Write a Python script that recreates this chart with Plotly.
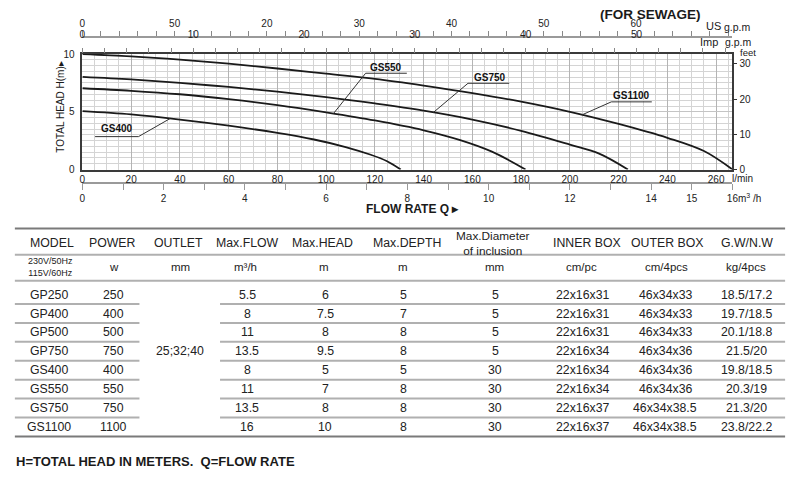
import numpy as np
import plotly.graph_objects as go

# ---------------- chart data (Q in l/min, H in m) ----------------
gs400_q = [0, 20, 40, 60, 80, 95, 108, 118, 125, 130.6]
gs400_h = [5.05, 4.77, 4.33, 3.8, 3.17, 2.6, 1.95, 1.3, 0.72, 0]
gs550_q = [0, 20, 40, 60, 80, 100, 120, 140, 155, 168, 181.8]
gs550_h = [7.04, 6.82, 6.52, 6.1, 5.58, 4.95, 4.25, 3.4, 2.55, 1.55, 0]
gs750_q = [0, 20, 40, 60, 80, 100, 120, 140, 160, 180, 200, 212, 223.8]
gs750_h = [8.02, 7.8, 7.5, 7.15, 6.74, 6.27, 5.72, 5.1, 4.33, 3.35, 2.15, 1.38, 0]
gs1100_q = [0, 20, 40, 60, 80, 100, 120, 140, 160, 180, 200, 220, 240, 255, 266.7]
gs1100_h = [10, 9.8, 9.52, 9.17, 8.75, 8.3, 7.85, 7.27, 6.62, 5.88, 5.0, 3.95, 2.75, 1.6, 0]

lmin_ticks = list(range(0, 261, 20))
m3h_ticks = list(range(0, 17))
m3h_text = ["0", " ", "2", " ", "4", " ", "6", " ", "8", " ", "10", " ", "12", " ", "14", "15", "16"]
us_ticks = [0, 10, 20, 30, 40, 50, 60]
us_text = ["0", "50", "20", "30", "40", "50", "60"]
imp_ticks = [0, 10, 20, 30, 40, 50]
feet_ticks = [0, 10, 20, 30]
head_ticks = [0, 5, 10]

# ---------------- table data ----------------
headers = ["MODEL", "POWER", "OUTLET", "Max.FLOW", "Max.HEAD", "Max.DEPTH",
           "Max.Diameter<br>of inclusion", "INNER BOX", "OUTER BOX", "G.W/N.W"]
units = ["230V/50Hz<br>115V/60Hz", "w", "mm", "m³/h", "m", "m", "mm", "cm/pc", "cm/4pcs", "kg/4pcs"]
models = ["GP250", "GP400", "GP500", "GP750", "GS400", "GS550", "GS750", "GS1100"]
power = ["250", "400", "500", "750", "400", "550", "750", "1100"]
outlet = "25;32;40"
max_flow = ["5.5", "8", "11", "13.5", "8", "11", "13.5", "16"]
max_head = ["6", "7.5", "8", "9.5", "5", "7", "8", "10"]
max_depth = ["5", "7", "8", "8", "5", "8", "8", "8"]
max_diam = ["5", "5", "5", "5", "30", "30", "30", "30"]
inner_box = ["22x16x31", "22x16x31", "22x16x31", "22x16x34", "22x16x34", "22x16x34", "22x16x37", "22x16x37"]
outer_box = ["46x34x33", "46x34x33", "46x34x33", "46x34x36", "46x34x36", "46x34x36", "46x34x38.5", "46x34x38.5"]
weight = ["18.5/17.2", "19.7/18.5", "20.1/18.8", "21.5/20", "19.8/18.5", "20.3/19", "21.3/20", "23.8/22.2"]

W, H = 800, 482
FONT = "Arial, Liberation Sans, sans-serif"
Q_MAX = 266.67


def px(x):
    return x / W


def py(y):
    return 1 - y / H


fig = go.Figure()
curves = [("GS400", gs400_q, gs400_h), ("GS550", gs550_q, gs550_h),
          ("GS750", gs750_q, gs750_h), ("GS1100", gs1100_q, gs1100_h)]
for name, q, h in curves:
    fig.add_trace(go.Scatter(x=q, y=h, mode="lines", name=name, showlegend=False,
                             line=dict(color="#1a1a1a", width=1.8, shape="spline", smoothing=1.0),
                             hoverinfo="skip", xaxis="x", yaxis="y"))

# invisible traces so every extra axis is drawn
for xa, ya in [("x2", "y"), ("x3", "y"), ("x4", "y"), ("x", "y2")]:
    fig.add_trace(go.Scatter(x=[0], y=[0], mode="markers", marker=dict(opacity=0),
                             showlegend=False, hoverinfo="skip", xaxis=xa, yaxis=ya))

xdom = [px(80.3), px(737.7)]
ydom = [py(167.7), py(49.3)]
tickfont = dict(family=FONT, size=10, color="#222")

fig.update_layout(
    width=W, height=H, margin=dict(l=0, r=0, t=0, b=0),
    paper_bgcolor="white", plot_bgcolor="white",
    xaxis=dict(domain=xdom, range=[0, Q_MAX], anchor="y", tickmode="array", tickvals=lmin_ticks,
               ticks="", showgrid=True, gridcolor="#b4b4b4", gridwidth=1,
               minor=dict(dtick=5, showgrid=True, gridcolor="#d4d4d4", gridwidth=1),
               showline=True, linecolor="#3a3a3a", linewidth=1.6, mirror=True,
               zeroline=False, tickfont=tickfont),
    yaxis=dict(domain=ydom, range=[0, 10], anchor="x", tickmode="array", tickvals=head_ticks,
               ticks="", showgrid=True, gridcolor="#c4c4c4", gridwidth=1,
               minor=dict(dtick=0.5, showgrid=True, gridcolor="#d4d4d4", gridwidth=1),
               showline=True, linecolor="#3a3a3a", linewidth=1.6, mirror=True,
               zeroline=False, tickfont=tickfont, ticklabelstandoff=4),
    yaxis2=dict(overlaying="y", side="right", anchor="x", range=[0, 32.808],
                tickmode="array", tickvals=feet_ticks, ticks="outside", ticklen=4,
                tickcolor="#333", showgrid=False, zeroline=False, tickfont=tickfont),
    xaxis2=dict(overlaying="x", side="top", anchor="y", range=[0, Q_MAX / 4.54609],
                tickmode="array", tickvals=imp_ticks, ticks="outside", ticklen=5,
                tickcolor="#888", tickwidth=1, ticklabelstandoff=6,
                minor=dict(dtick=2, ticks="outside", ticklen=5, tickcolor="#888", tickwidth=1),
                showgrid=False, showline=False, zeroline=False, tickfont=tickfont),
    xaxis3=dict(overlaying="x", side="top", anchor="free", position=py(32),
                range=[0, Q_MAX / 3.78541], tickmode="array", tickvals=us_ticks, ticktext=us_text,
                ticks="outside", ticklen=5, tickcolor="#888", tickwidth=1,
                minor=dict(dtick=2, ticks="outside", ticklen=5, tickcolor="#888", tickwidth=1),
                showgrid=False, showline=True, linecolor="#9a9a9a", linewidth=1.5,
                zeroline=False, tickfont=tickfont),
    xaxis4=dict(overlaying="x", side="bottom", anchor="free", position=py(182),
                range=[0, 16], tickmode="array", tickvals=m3h_ticks, ticktext=m3h_text,
                ticks="outside", ticklen=6, tickcolor="#999", tickwidth=1,
                showgrid=False, showline=True, linecolor="#9a9a9a", linewidth=1.5,
                zeroline=False, tickfont=tickfont),
)

annotations = []
shapes = []


def txt(x, y, s, size=10, bold=False, xanchor="center", angle=0, color="#1a1a1a"):
    if bold:
        s = "<b>" + s + "</b>"
    annotations.append(dict(x=px(x), y=py(y), xref="paper", yref="paper", text=s,
                            showarrow=False, xanchor=xanchor, yanchor="middle", textangle=angle,
                            font=dict(family=FONT, size=size, color=color)))


# curve labels with leader lines (data coordinates)
label_layout = {
    "GS400": dict(text=(14.1, 3.52), ul=(5.2, 23.0, 2.85), start="right", ptr=36),
    "GS550": dict(text=(124.7, 8.84), ul=(116.2, 133.1, 8.34), start="left", ptr=103),
    "GS750": dict(text=(167.1, 7.97), ul=(158.2, 175.1, 7.47), start="left", ptr=144),
    "GS1100": dict(text=(225.3, 6.42), ul=(217.0, 233.6, 5.86), start="left", ptr=205),
}
for name, q, h in curves:
    L = label_layout[name]
    annotations.append(dict(x=L["text"][0], y=L["text"][1], xref="x", yref="y",
                            text="<b>" + name + "</b>", showarrow=False,
                            font=dict(family=FONT, size=10, color="#111")))
    x0, x1, yu = L["ul"]
    shapes.append(dict(type="line", xref="x", yref="y", x0=x0, x1=x1, y0=yu, y1=yu,
                       line=dict(color="#333", width=1)))
    xs = x1 if L["start"] == "right" else x0
    hp = float(np.interp(L["ptr"], q, h))
    shapes.append(dict(type="line", xref="x", yref="y", x0=xs, y0=yu, x1=L["ptr"], y1=hp,
                       line=dict(color="#333", width=1)))

# chart texts
txt(655, 8.5, "(FOR SEWAGE)", size=13.5, bold=True)
txt(709, 21, "US", size=11, xanchor="left")
txt(727, 22, "g.p.m", size=10.5, xanchor="left")
txt(703, 37, "Imp", size=11, xanchor="left")
txt(728, 37, "g.p.m", size=10.5, xanchor="left")
txt(743, 47.5, "feet", size=9.5, xanchor="left")
txt(735, 177, "l/min", size=10, xanchor="left")
txt(741, 197, "m<sup>3</sup> /h", size=10, xanchor="left")
txt(414, 208.5, "FLOW RATE Q ▸", size=12, bold=True)
txt(58, 104, "TOTAL HEAD H(m)▸", size=10, angle=-90)

# ---------------- table ----------------
hdr_x = [50, 111, 177, 247, 323, 409, 495, 591, 672, 752]
unit_x = [48, 112, 180, 245, 325, 405, 497, 585, 671, 751]
col_x = [47, 112, 177, 247, 326, 405, 498, 586, 670, 752]
for x, s in zip(hdr_x, headers):
    txt(x, 243.5, s, size=12.3 if "<br>" not in s else 11.8, color="#222")
for x, s in zip(unit_x, units):
    if "<br>" in s:
        txt(x, 268, s, size=9, color="#222")
    else:
        txt(x, 268, s, size=11.5, color="#222")

row_y0, pitch = 296, 19.4
cols = [models, power, None, max_flow, max_head, max_depth, max_diam, inner_box, outer_box, weight]
for i in range(len(models)):
    yy = row_y0 + i * pitch
    for j, col in enumerate(cols):
        if col is None:
            continue
        txt(col_x[j], yy, col[i], size=12.3, color="#222")
txt(179, 353.5, outlet, size=12.3, color="#222")

# table lines
shapes.append(dict(type="line", xref="paper", yref="paper", x0=px(12), x1=px(791),
                   y0=py(228.3), y1=py(228.3), line=dict(color="#7a7a7a", width=2)))
for yl in [255, 281.7]:
    shapes.append(dict(type="line", xref="paper", yref="paper", x0=px(12), x1=px(791),
                       y0=py(yl), y1=py(yl), line=dict(color="#b0b0b0", width=2)))
for i in range(len(models)):
    yl = row_y0 + i * pitch + 9.6
    if i == len(models) - 1:
        shapes.append(dict(type="line", xref="paper", yref="paper", x0=px(12), x1=px(791),
                           y0=py(yl), y1=py(yl), line=dict(color="#7a7a7a", width=2)))
    else:
        for a, b in [(12, 138), (219.5, 791)]:
            shapes.append(dict(type="line", xref="paper", yref="paper", x0=px(a), x1=px(b),
                               y0=py(yl), y1=py(yl), line=dict(color="#b0b0b0", width=2)))

txt(11, 467, "H=TOTAL HEAD IN METERS.\u00a0 Q=FLOW RATE", size=13, bold=True, xanchor="left")

fig.update_layout(annotations=annotations, shapes=shapes)
fig.write_html("out.html")
